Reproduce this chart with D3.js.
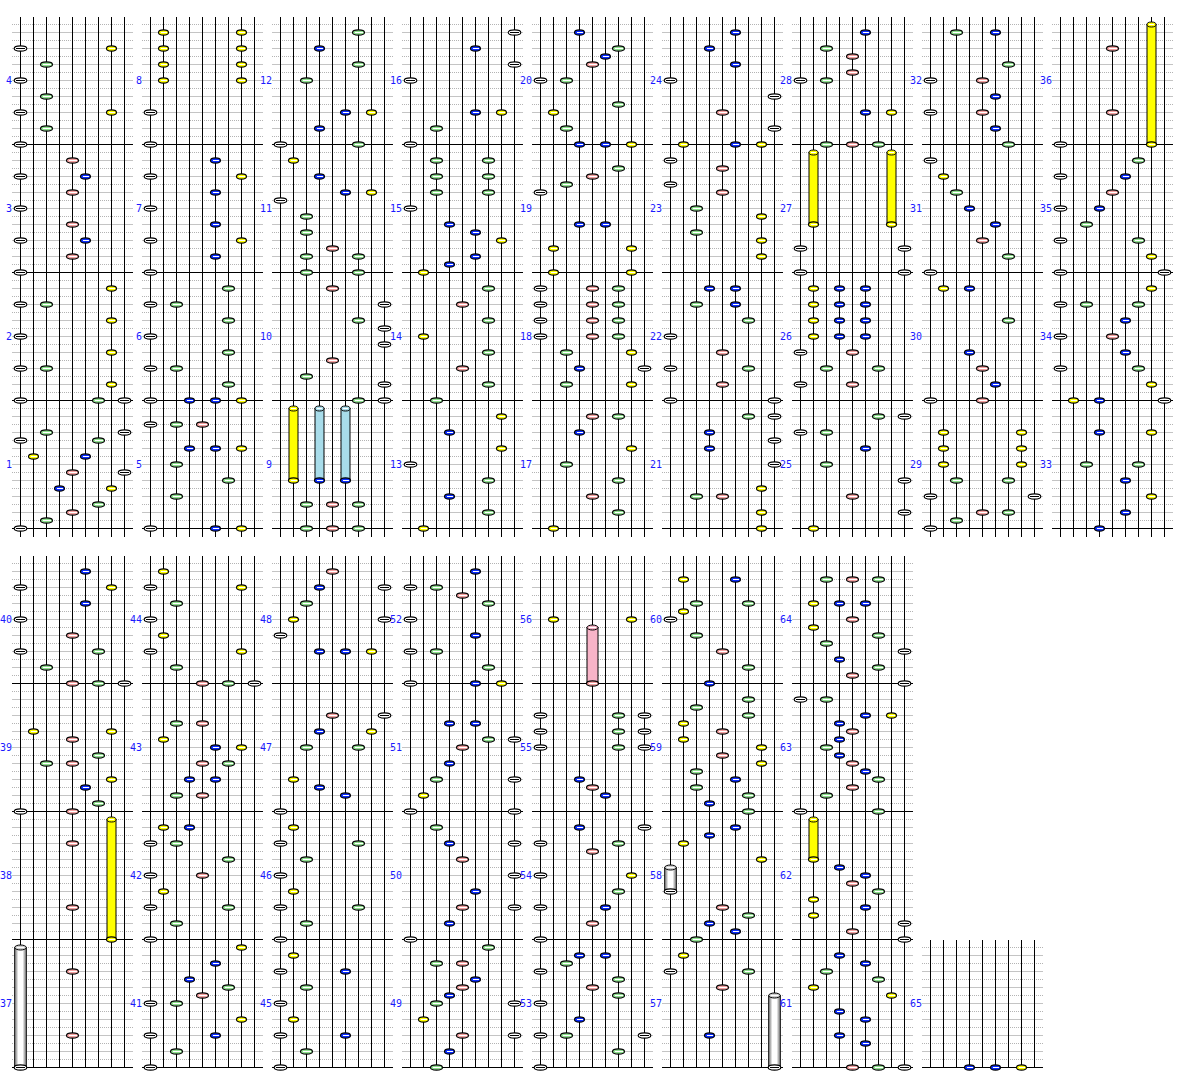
<!DOCTYPE html>
<html><head><meta charset="utf-8">
<script src="https://cdn.jsdelivr.net/npm/d3@7"></script>
<style>html,body{margin:0;padding:0;background:#fff;}svg{display:block;}</style>
</head><body>
<svg id="chart" width="1184" height="1084"></svg>
<script>
// ---- data ----
const measures = d3.range(1, 66);
const lanes = d3.range(0, 9);
// [measure, lane, [steps (sixteenths from bottom of measure)]]
const notes = [
 [1,0,[11,0]],[1,1,[9]],[1,2,[12,1]],[1,3,[5]],[1,4,[7,2]],[1,5,[9]],[1,6,[11,3]],[1,7,[5]],[1,8,[12,7]],
 [2,0,[12,8,4,0]],[2,2,[12,4]],[2,6,[0]],[2,7,[14,10,6,2]],[2,8,[0]],
 [3,0,[12,8,4,0]],[3,4,[14,10,6,2]],[3,5,[12,4]],
 [4,0,[12,8,4,0]],[4,2,[10,6,2]],[4,7,[12,4]],
 [5,0,[13,0]],[5,2,[13,8,4]],[5,3,[10]],[5,4,[13]],[5,5,[10,0]],[5,6,[6]],[5,7,[10,0]],
 [6,0,[12,8,4,0]],[6,2,[12,4]],[6,3,[0]],[6,5,[0]],[6,6,[14,10,6,2]],[6,7,[0]],
 [7,0,[12,8,4,0]],[7,5,[14,10,6,2]],[7,7,[12,4]],
 [8,0,[4,0]],[8,1,[14,12,10,8]],[8,7,[14,12,10,8]],
 [9,2,[3,0]],[9,4,[3,0]],[9,6,[3,0]],
 [10,2,[3]],[10,4,[14,5]],[10,6,[10,0]],[10,8,[12,9,7,2,0]],
 [11,0,[9]],[11,1,[14]],[11,2,[7,5,2,0]],[11,3,[12]],[11,4,[3]],[11,5,[10]],[11,6,[2,0]],[11,7,[10]],
 [12,0,[0]],[12,2,[8]],[12,3,[12,2]],[12,5,[4]],[12,6,[14,10,0]],[12,7,[4]],
 [13,0,[8]],[13,1,[0]],[13,3,[12,4]],[13,6,[6,2]],[13,7,[14,10]],
 [14,1,[8]],[14,2,[0]],[14,4,[12,4]],[14,6,[14,10,6,2]],
 [15,0,[8]],[15,1,[0]],[15,2,[14,12,10]],[15,3,[6,1]],[15,5,[5,2]],[15,6,[14,12,10]],[15,7,[4]],
 [16,0,[8,0]],[16,2,[2]],[16,5,[12,4]],[16,7,[4]],[16,8,[14,10]],
 [17,1,[0]],[17,2,[8]],[17,3,[12]],[17,4,[14,4]],[17,6,[14,6,2]],[17,7,[10]],
 [18,0,[14,12,10,8]],[18,2,[6,2]],[18,3,[4]],[18,4,[14,12,10,8]],[18,6,[14,12,10,8]],[18,7,[6,2]],[18,8,[4]],
 [19,0,[10]],[19,1,[3,0]],[19,2,[11]],[19,3,[6]],[19,4,[12]],[19,5,[6]],[19,6,[13]],[19,7,[3,0]],
 [20,0,[8]],[20,1,[4]],[20,2,[8,2]],[20,3,[14,0]],[20,4,[10]],[20,5,[11,0]],[20,6,[12,5]],[20,7,[0]],
 [21,2,[4]],[21,3,[12,10]],[21,4,[4]],[21,6,[14]],[21,7,[5,2,0]],[21,8,[14,11,8]],
 [22,0,[8,4,0]],[22,2,[12]],[22,3,[14]],[22,4,[6,2]],[22,5,[14,12]],[22,6,[10,4]],[22,8,[0]],
 [23,0,[14,11]],[23,2,[8,5]],[23,4,[13,10]],[23,7,[7,4,2]],
 [24,0,[8]],[24,1,[0]],[24,3,[12]],[24,4,[4]],[24,5,[14,10,0]],[24,7,[0]],[24,8,[6,2]],
 [25,0,[12]],[25,1,[0]],[25,2,[12,8]],[25,4,[4]],[25,5,[10]],[25,6,[14]],[25,8,[14,6,2]],
 [26,0,[6,2]],[26,1,[14,12,10,8]],[26,2,[4]],[26,3,[14,12,10,8]],[26,4,[6,2]],[26,5,[14,12,10,8]],[26,6,[4]],
 [27,0,[3,0]],[27,8,[3,0]],
 [28,0,[8]],[28,2,[12,8,0]],[28,4,[11,9,0]],[28,5,[14,4]],[28,6,[0]],[28,7,[4]],
 [29,0,[4,0]],[29,1,[12,10,8]],[29,2,[6,1]],[29,4,[2]],[29,6,[6,2]],[29,7,[12,10,8]],[29,8,[4]],
 [30,0,[0]],[30,1,[14]],[30,3,[14,6]],[30,4,[4,0]],[30,5,[2]],[30,6,[10]],
 [31,0,[14,0]],[31,1,[12]],[31,2,[10]],[31,3,[8]],[31,4,[4]],[31,5,[6]],[31,6,[2]],
 [32,0,[8,4]],[32,2,[14]],[32,4,[8,4]],[32,5,[14,6,2]],[32,6,[10,0]],
 [33,2,[8]],[33,3,[12,0]],[33,5,[6,2]],[33,6,[8]],[33,7,[12,4]],
 [34,0,[12,8,4]],[34,1,[0]],[34,2,[12]],[34,3,[0]],[34,4,[8]],[34,5,[10,6]],[34,6,[12,4]],[34,7,[14,2]],[34,8,[0]],
 [35,0,[12,8,4,0]],[35,2,[6]],[35,3,[8]],[35,4,[10]],[35,5,[12]],[35,6,[14,4]],[35,7,[2]],[35,8,[0]],
 [36,0,[0]],[36,4,[12,4]],
 [37,4,[12,4]],
 [38,4,[12,4]],
 [39,0,[0]],[39,1,[10]],[39,2,[6]],[39,4,[9,6,0]],[39,5,[3]],[39,6,[7,1]],[39,7,[10,4]],
 [40,0,[12,8,4]],[40,2,[2]],[40,4,[6,0]],[40,5,[14,10]],[40,6,[4,0]],[40,7,[12]],[40,8,[0]],
 [41,0,[8,4,0]],[41,2,[8,2]],[41,3,[11]],[41,4,[9]],[41,5,[13,4]],[41,6,[10]],[41,7,[15,6]],
 [42,0,[12,8,4,0]],[42,1,[14,6]],[42,2,[12,2]],[42,3,[14]],[42,4,[8]],[42,6,[10,4]],
 [43,1,[9]],[43,2,[11,2]],[43,3,[4]],[43,4,[11,6,2]],[43,5,[8,4]],[43,6,[6]],[43,7,[8]],
 [44,0,[12,8,4]],[44,1,[14,6]],[44,2,[10,2]],[44,4,[0]],[44,6,[0]],[44,7,[12,4]],[44,8,[0]],
 [45,0,[12,8,4,0]],[45,1,[14,6]],[45,2,[10,2]],[45,5,[12,4]],
 [46,0,[12,8,4,0]],[46,1,[14,6]],[46,2,[10,2]],[46,6,[12,4]],
 [47,0,[0]],[47,1,[4]],[47,2,[8]],[47,3,[10,3]],[47,4,[12]],[47,5,[2]],[47,6,[8]],[47,7,[10]],[47,8,[12]],
 [48,0,[6]],[48,1,[8]],[48,2,[10]],[48,3,[12,4]],[48,4,[14]],[48,5,[4]],[48,7,[4]],[48,8,[12,8]],
 [49,1,[6]],[49,2,[13,8,0]],[49,3,[9,2]],[49,4,[13,10,4]],[49,5,[11]],[49,6,[15]],[49,8,[8,4]],
 [50,0,[0]],[50,2,[14]],[50,3,[12,2]],[50,4,[10,4]],[50,5,[6]],[50,8,[12,8,4]],
 [51,0,[0]],[51,1,[2]],[51,2,[4]],[51,3,[11,6]],[51,4,[8]],[51,5,[11]],[51,6,[9]],[51,8,[9,4,0]],
 [52,0,[12,8,4,0]],[52,2,[12,4]],[52,4,[11]],[52,5,[14,6,0]],[52,6,[10,2]],[52,7,[0]],
 [53,0,[12,8,4,0]],[53,2,[13,4]],[53,3,[14,6]],[53,4,[10]],[53,5,[14]],[53,6,[11,9,2]],[53,8,[4]],
 [54,0,[12,8,4,0]],[54,3,[14]],[54,4,[11,2]],[54,5,[4]],[54,6,[12,6]],[54,7,[8]],[54,8,[14]],
 [55,0,[12,10,8]],[55,3,[4]],[55,4,[3]],[55,5,[2]],[55,6,[12,10,8]],[55,8,[12,10,8]],
 [56,1,[8]],[56,7,[8]],
 [57,0,[12]],[57,1,[14]],[57,3,[4]],[57,4,[10]],[57,6,[12]],
 [58,1,[12]],[58,2,[0]],[58,3,[13,2]],[58,4,[4]],[58,5,[14,1]],[58,6,[3]],[58,7,[10]],
 [59,1,[11,9]],[59,2,[13,5,3]],[59,3,[1]],[59,4,[10,7]],[59,5,[4]],[59,6,[14,12,2,0]],[59,7,[8,6]],
 [60,0,[8]],[60,1,[13,9]],[60,2,[10,6]],[60,3,[0]],[60,4,[4]],[60,5,[13]],[60,6,[10,2]],
 [61,1,[10]],[61,2,[12]],[61,3,[14,7,4]],[61,4,[0]],[61,5,[13,6,3]],[61,6,[11,0]],[61,7,[9]],[61,8,[0]],
 [62,1,[5,3]],[62,3,[9]],[62,4,[7,1]],[62,5,[8,4]],[62,6,[6]],[62,8,[2,0]],
 [63,0,[14,0]],[63,2,[14,8,2]],[63,3,[11,9,7]],[63,4,[10,6,3]],[63,5,[12,5]],[63,6,[4,0]],[63,7,[12]],
 [64,1,[10,7]],[64,2,[13,5]],[64,3,[10,3]],[64,4,[13,8,1]],[64,5,[10]],[64,6,[13,6,2]],[64,8,[4,0]],
 [65,3,[0]],[65,5,[0]],[65,7,[0]]
];
// [measure, lane, startStep, endStep]
const holds = [
 [9,1,6,15],[9,3,6,15],[9,5,6,15],
 [27,1,6,15],[27,7,6,15],
 [36,7,0,15],[37,0,0,15],[38,7,0,15],
 [56,4,0,7],[57,8,0,9],[58,0,6,9],[62,1,10,15]
];

// ---- styles ----
const laneColors = ["#ffffff","#ffff00","#8ee08e","#0a2cff","#f4a0a0","#0a2cff","#8ee08e","#ffff00","#ffffff"];
const holdColors = ["url(#whiteHold)","#ffff00","#8ee08e","#a8dcea","#f8b4c8","#a8dcea","#8ee08e","#ffff00","url(#whiteHold)"];
const beadRx = [6.3,5,6,5,6,5,6,5,6.3];

// ---- layout ----
function place(m){
  let col,row,block;
  if (m<=36){ col=Math.floor((m-1)/4); row=(m-1)%4; block=0; }
  else if (m<=64){ col=Math.floor((m-37)/4); row=(m-37)%4; block=1; }
  else { col=7; row=0; block=1; }
  const blockBottom = block===0 ? 528.5 : 1067.5;
  return {x0: col*130, y0: blockBottom - 128*row, block, row};
}
const laneX = d3.scaleLinear().domain([0,8]).range([20.5,124.5]);
const stepY = d3.scaleLinear().domain([0,16]).range([0,-128]);

const svg = d3.select("#chart");
svg.append("rect").attr("width",1184).attr("height",1084).attr("fill","#fff");
const defs = svg.append("defs");
const gr = defs.append("linearGradient").attr("id","whiteHold").attr("x1","0").attr("x2","1").attr("y1","0").attr("y2","0");
[[0,"#9a9a9a"],[0.18,"#b8b8b8"],[0.3,"#ffffff"],[0.7,"#ffffff"],[0.82,"#b8b8b8"],[1,"#9a9a9a"]]
  .forEach(([o,c])=>gr.append("stop").attr("offset",o).attr("stop-color",c));

const gGrid = svg.append("g").attr("shape-rendering","crispEdges"),
      gLanes = svg.append("g").attr("shape-rendering","crispEdges"),
      gBars = svg.append("g").attr("shape-rendering","crispEdges"),
      gNotes = svg.append("g"), gLabels = svg.append("g");

measures.forEach(m=>{
  const p = place(m);
  const t = `translate(${p.x0},${p.y0})`;
  gGrid.append("g").attr("transform",t)
    .selectAll("line").data(d3.range(1,16)).join("line")
    .attr("x1",12).attr("x2",133)
    .attr("y1",s=>stepY(s)).attr("y2",s=>stepY(s))
    .attr("stroke",s=>s%2?"#b4b4b4":"#c4c4c4")
    .attr("stroke-dasharray",s=>s%2?"1,1":null);
  const tail = (p.block===0 && p.row===0) ? 8 : 0;
  gLanes.append("g").attr("transform",t)
    .selectAll("line").data(lanes).join("line")
    .attr("x1",d=>laneX(d)).attr("x2",d=>laneX(d))
    .attr("y1",stepY(16)).attr("y2",tail)
    .attr("stroke","#000");
  gBars.append("line").attr("transform",t)
    .attr("x1",12).attr("x2",133).attr("y1",0).attr("y2",0).attr("stroke","#000");
  gLabels.append("text").attr("transform",t)
    .attr("x",12).attr("y",stepY(8))
    .attr("text-anchor","end").attr("dominant-baseline","central")
    .attr("font-family","DejaVu Sans Mono, monospace").attr("font-size",10)
    .attr("fill","#1a1aff").text(m);
});

function bead(g,x,y,lane){
  const rx = beadRx[lane];
  g.append("ellipse").attr("cx",x).attr("cy",y).attr("rx",rx).attr("ry",2.6)
    .attr("fill",laneColors[lane]).attr("stroke","#000").attr("stroke-width",1.1);
  g.append("line").attr("x1",x-rx+2).attr("x2",x+rx-2).attr("y1",y).attr("y2",y)
    .attr("shape-rendering","crispEdges")
    .attr("stroke",(lane===0||lane===8)?"#000":"#fff");
}

holds.forEach(([m,lane,s0,s1])=>{
  const p = place(m);
  const x = p.x0 + laneX(lane), yb = p.y0 + stepY(s0), yt = p.y0 + stepY(s1);
  const w = 2*beadRx[lane]-1;
  gNotes.append("rect").attr("x",x-w/2).attr("y",yt).attr("width",w).attr("height",yb-yt)
    .attr("fill",holdColors[lane]).attr("stroke","#000");
  gNotes.append("ellipse").attr("cx",x).attr("cy",yt).attr("rx",w/2).attr("ry",2.5)
    .attr("fill",(lane===0||lane===8)?"#d0d0d0":holdColors[lane]).attr("stroke","#000");
  gNotes.append("line").attr("x1",x-w/2+2).attr("x2",x+w/2-2).attr("y1",yt).attr("y2",yt)
    .attr("stroke","#fff");
  bead(gNotes,x,yb,lane);
});

notes.forEach(([m,lane,steps])=>{
  const p = place(m);
  steps.forEach(s=>bead(gNotes, p.x0+laneX(lane), p.y0+stepY(s), lane));
});
</script>
</body></html>
